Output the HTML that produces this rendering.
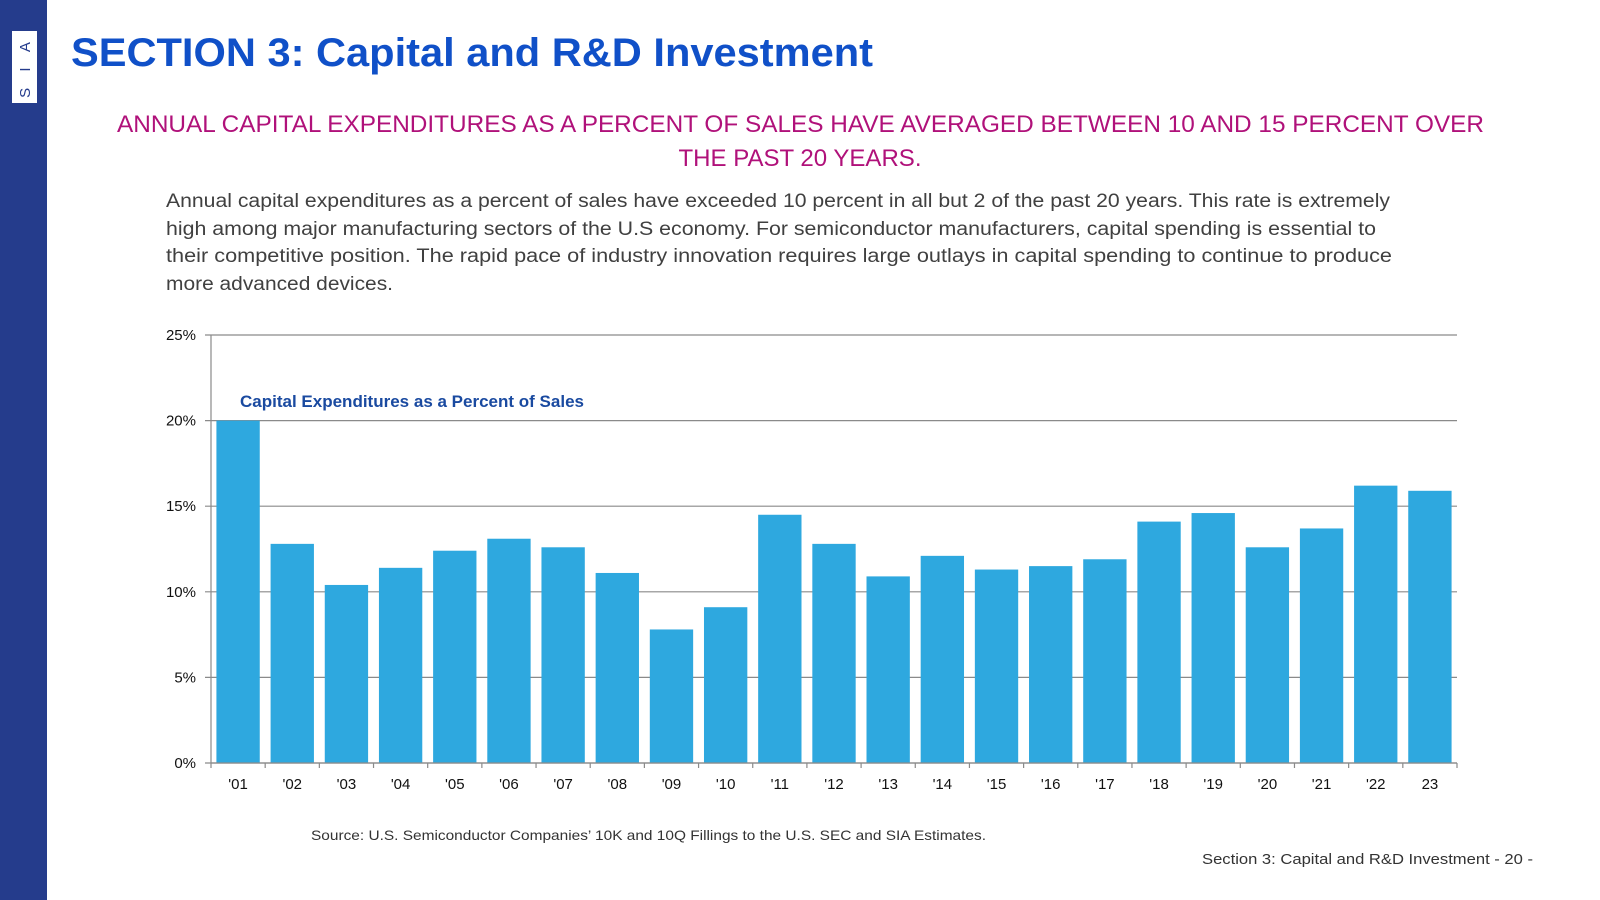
<!DOCTYPE html>
<html><head><meta charset="utf-8"><style>
html,body{margin:0;padding:0;background:#fff;}
svg{display:block;}
text{font-family:"Liberation Sans",sans-serif;}
</style></head><body>
<svg id="page" width="1600" height="900" viewBox="0 0 1600 900">
<rect x="0" y="0" width="47" height="900" fill="#253C8C"/>
<rect x="12" y="31" width="25" height="72" fill="#fff"/>
<text transform="translate(30,67) rotate(-90)" text-anchor="middle" font-size="15" fill="#253C8C" letter-spacing="6">S I A</text>
<text x="71" y="66" font-size="40" font-weight="bold" fill="#1050C8" textLength="802" lengthAdjust="spacingAndGlyphs">SECTION 3: Capital and R&amp;D Investment</text>
<text x="117" y="132" font-size="24" fill="#B0117A" textLength="1367" lengthAdjust="spacingAndGlyphs">ANNUAL CAPITAL EXPENDITURES AS A PERCENT OF SALES HAVE AVERAGED BETWEEN 10 AND 15 PERCENT OVER</text>
<text x="800" y="166" font-size="24" fill="#B0117A" text-anchor="middle" textLength="243" lengthAdjust="spacingAndGlyphs">THE PAST 20 YEARS.</text>
<g fill="#404040" font-size="19">
<text x="166" y="207" textLength="1224" lengthAdjust="spacingAndGlyphs">Annual capital expenditures as a percent of sales have exceeded 10 percent in all but 2 of the past 20 years. This rate is extremely</text>
<text x="166" y="235" textLength="1210" lengthAdjust="spacingAndGlyphs">high among major manufacturing sectors of the U.S economy. For semiconductor manufacturers, capital spending is essential to</text>
<text x="166" y="262" textLength="1226" lengthAdjust="spacingAndGlyphs">their competitive position. The rapid pace of industry innovation requires large outlays in capital spending to continue to produce</text>
<text x="166" y="290" textLength="227" lengthAdjust="spacingAndGlyphs">more advanced devices.</text>
</g>
<g id="chart"></g>
<text x="240" y="407" font-size="17" font-weight="bold" fill="#1A4AA0" textLength="344" lengthAdjust="spacingAndGlyphs">Capital Expenditures as a Percent of Sales</text>
<text x="311" y="840" font-size="14" fill="#333" textLength="675" lengthAdjust="spacingAndGlyphs">Source: U.S. Semiconductor Companies’ 10K and 10Q Fillings to the U.S. SEC and SIA Estimates.</text>
<text x="1202" y="864" font-size="15" fill="#333" textLength="331" lengthAdjust="spacingAndGlyphs">Section 3: Capital and R&amp;D Investment  - 20 -</text>
</svg>
<script>
const categories = ["'01","'02","'03","'04","'05","'06","'07","'08","'09","'10","'11","'12","'13","'14","'15","'16","'17","'18","'19","'20","'21","'22","23"];
const capexPct = [20.0,12.8,10.4,11.4,12.4,13.1,12.6,11.1,7.8,9.1,14.5,12.8,10.9,12.1,11.3,11.5,11.9,14.1,14.6,12.6,13.7,16.2,15.9];
const yTicks = [0,5,10,15,20,25];
const yTickLabels = ["0%","5%","10%","15%","20%","25%"];
const NS = "http://www.w3.org/2000/svg";
const g = document.getElementById('chart');
const x0 = 211, x1 = 1457, yTop = 335, yBot = 763, yMax = 25;
const slot = (x1 - x0) / categories.length;
const barW = slot * 0.8;
function yScale(v){ return yBot - (v / yMax) * (yBot - yTop); }
function xCenter(i){ return x0 + slot * (i + 0.5); }
function mk(tag, attrs){ const e = document.createElementNS(NS, tag); for (const k in attrs) e.setAttribute(k, attrs[k]); g.appendChild(e); return e; }
yTicks.forEach((t, i) => {
  const y = yScale(t);
  const gl = mk('line', {x1: x0 - 6, x2: x1, y1: y, y2: y, stroke: '#8a8a8a', 'stroke-width': 1.2});
  
  
  const tl = mk('text', {x: 196, y: y + 5, 'text-anchor': 'end', 'font-size': 15, fill: '#111'});
  tl.textContent = yTickLabels[i];
  
  
});
const ax = mk('line', {x1: x0, x2: x0, y1: yTop, y2: yBot, stroke: '#8a8a8a', 'stroke-width': 1.2});


capexPct.forEach((v, i) => {
  const cx = xCenter(i);
  const b = mk('rect', {x: cx - barW / 2, y: yScale(v), width: barW, height: yBot - yScale(v), fill: '#2EA8DF'});
  
  
  const lbl = mk('text', {x: cx, y: 789, 'text-anchor': 'middle', 'font-size': 15, fill: '#111'});
  lbl.textContent = categories[i];
  
  
});
for (let i = 0; i <= categories.length; i++) {
  const tx = x0 + slot * i;
  const tk = mk('line', {x1: tx, x2: tx, y1: yBot, y2: yBot + 5, stroke: '#8a8a8a', 'stroke-width': 1.2});
  
  
}
const xa = mk('line', {x1: x0, x2: x1, y1: yBot, y2: yBot, stroke: '#8a8a8a', 'stroke-width': 1.2});


</script>
</body></html>
